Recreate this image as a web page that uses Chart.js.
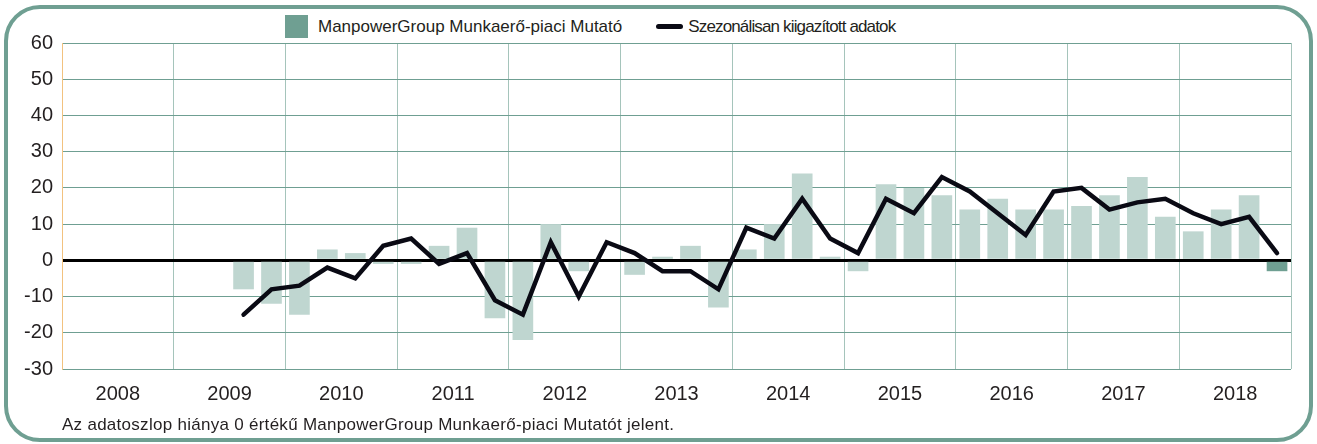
<!DOCTYPE html>
<html>
<head>
<meta charset="utf-8">
<script src="https://cdn.jsdelivr.net/npm/chart.js@4"></script>
<style>
  html, body { margin: 0; padding: 0; background: #fff; }
  body { width: 1317px; height: 444px; position: relative; overflow: hidden; font-family: "Liberation Sans", Arial, sans-serif; color: #231f20; }
  .frame { position: absolute; left: 4px; top: 5px; width: 1301px; height: 429px; border: 4px solid #6f9f92; border-radius: 36px; }
  .legend { position: absolute; top: 15px; left: 285px; display: flex; align-items: center; font-size: 17px; }
  .legend .item { display: flex; align-items: center; }
  .legend .item + .item { margin-left: 34px; }
  .legend .box { width: 23px; height: 23px; background: #6f9f92; margin-right: 10px; }
  .legend .line { width: 27px; height: 5px; border-radius: 3px; background: #0a0a14; margin-right: 5px; }
  .legend .narrow { letter-spacing: -0.85px; }
  .note { position: absolute; left: 62px; top: 415px; font-size: 17px; letter-spacing: 0.28px; }
  .wrap { position: absolute; left: 0; top: 0; width: 1317px; height: 444px; }
</style>
</head>
<body>
<div class="frame"></div>
<div class="legend">
  <div class="item"><span class="box"></span>ManpowerGroup Munkaerő-piaci Mutató</div>
  <div class="item narrow"><span class="line"></span>Szezonálisan kiigazított adatok</div>
</div>
<div class="wrap"><canvas id="chart"></canvas></div>
<div class="note">Az adatoszlop hiánya 0 értékű ManpowerGroup Munkaerő-piaci Mutatót jelent.</div>
<script>
// years on the axis, one category per quarter
const years = ['2008', '2009', '2010', '2011', '2012', '2013', '2014', '2015', '2016', '2017', '2018'];
const quarters = years.flatMap(y => ['Q1', 'Q2', 'Q3', 'Q4'].map(q => y + ' ' + q));

// ManpowerGroup index (bars), 2008 Q1 .. 2018 Q4
const mutato = [
  0, 0, 0, 0,
  0, 0, -8, -12,
  -15, 3, 2, -1,
  -1, 4, 9, -16,
  -22, 10, -3, 0,
  -4, 1, 4, -13,
  3, 10, 24, 1,
  -3, 21, 20, 18,
  14, 17, 14, 14,
  15, 18, 23, 12,
  8, 14, 18, -3
];

// seasonally adjusted (line)
const szezonalis = [
  null, null, null, null,
  null, null, -15, -8,
  -7, -2, -5, 4,
  6, -1, 2, -11,
  -15, 5, -10, 5,
  2, -3, -3, -8,
  9, 6, 17, 6,
  2, 17, 13, 23,
  19, 13, 7, 19,
  20, 14, 16, 17,
  13, 10, 12, 2
];

const yTicks = [60, 50, 40, 30, 20, 10, 0, -10, -20, -30];

// latest quarter is highlighted in the darker colour
const barColors = mutato.map((v, i) => i === mutato.length - 1 ? '#6f9f92' : '#bfd6d0');

new Chart(document.getElementById('chart'), {
  data: {
    labels: quarters,
    datasets: [
      {
        type: 'line',
        label: 'Szezonálisan kiigazított adatok',
        data: szezonalis,
        borderColor: '#0a0a14',
        borderWidth: 4.5,
        borderJoinStyle: 'miter',
        borderCapStyle: 'round',
        pointRadius: 0,
        tension: 0,
        order: 0
      },
      {
        type: 'bar',
        label: 'ManpowerGroup Munkaerő-piaci Mutató',
        data: mutato,
        backgroundColor: barColors,
        barPercentage: 0.74,
        categoryPercentage: 1,
        order: 1
      }
    ]
  },
  options: {
    responsive: true,
    maintainAspectRatio: false,
    animation: false,
    layout: { padding: { left: 0, right: 26, top: 43, bottom: 35 } },
    plugins: { legend: { display: false }, tooltip: { enabled: false } },
    scales: {
      x: {
        display: false,
        offset: true
      },
      years: {
        type: 'category',
        labels: years,
        position: 'bottom',
        offset: true,
        afterFit: s => { s.height = 40; },
        border: { display: false },
        grid: {
          offset: true,
          drawTicks: false,
          color: c => c.index === 0 ? 'rgba(0,0,0,0)' : '#a5c4bb',
          lineWidth: 1
        },
        ticks: { color: '#231f20', font: { family: 'Liberation Sans', size: 20 }, padding: 13, maxRotation: 0 }
      },
      y: {
        min: -30,
        max: 60,
        afterFit: s => { s.width = 62; },
        afterBuildTicks: s => { s.ticks = yTicks.map(v => ({ value: v })); },
        border: { display: true, color: '#f2c27f', width: 1 },
        grid: {
          drawTicks: false,
          color: c => c.tick && c.tick.value === 0 ? '#000' : '#6f9f92',
          lineWidth: c => c.tick && c.tick.value === 0 ? 3 : 1
        },
        ticks: { color: '#231f20', font: { family: 'Liberation Sans', size: 20 }, padding: 9 }
      }
    }
  }
});
</script>
</body>
</html>
